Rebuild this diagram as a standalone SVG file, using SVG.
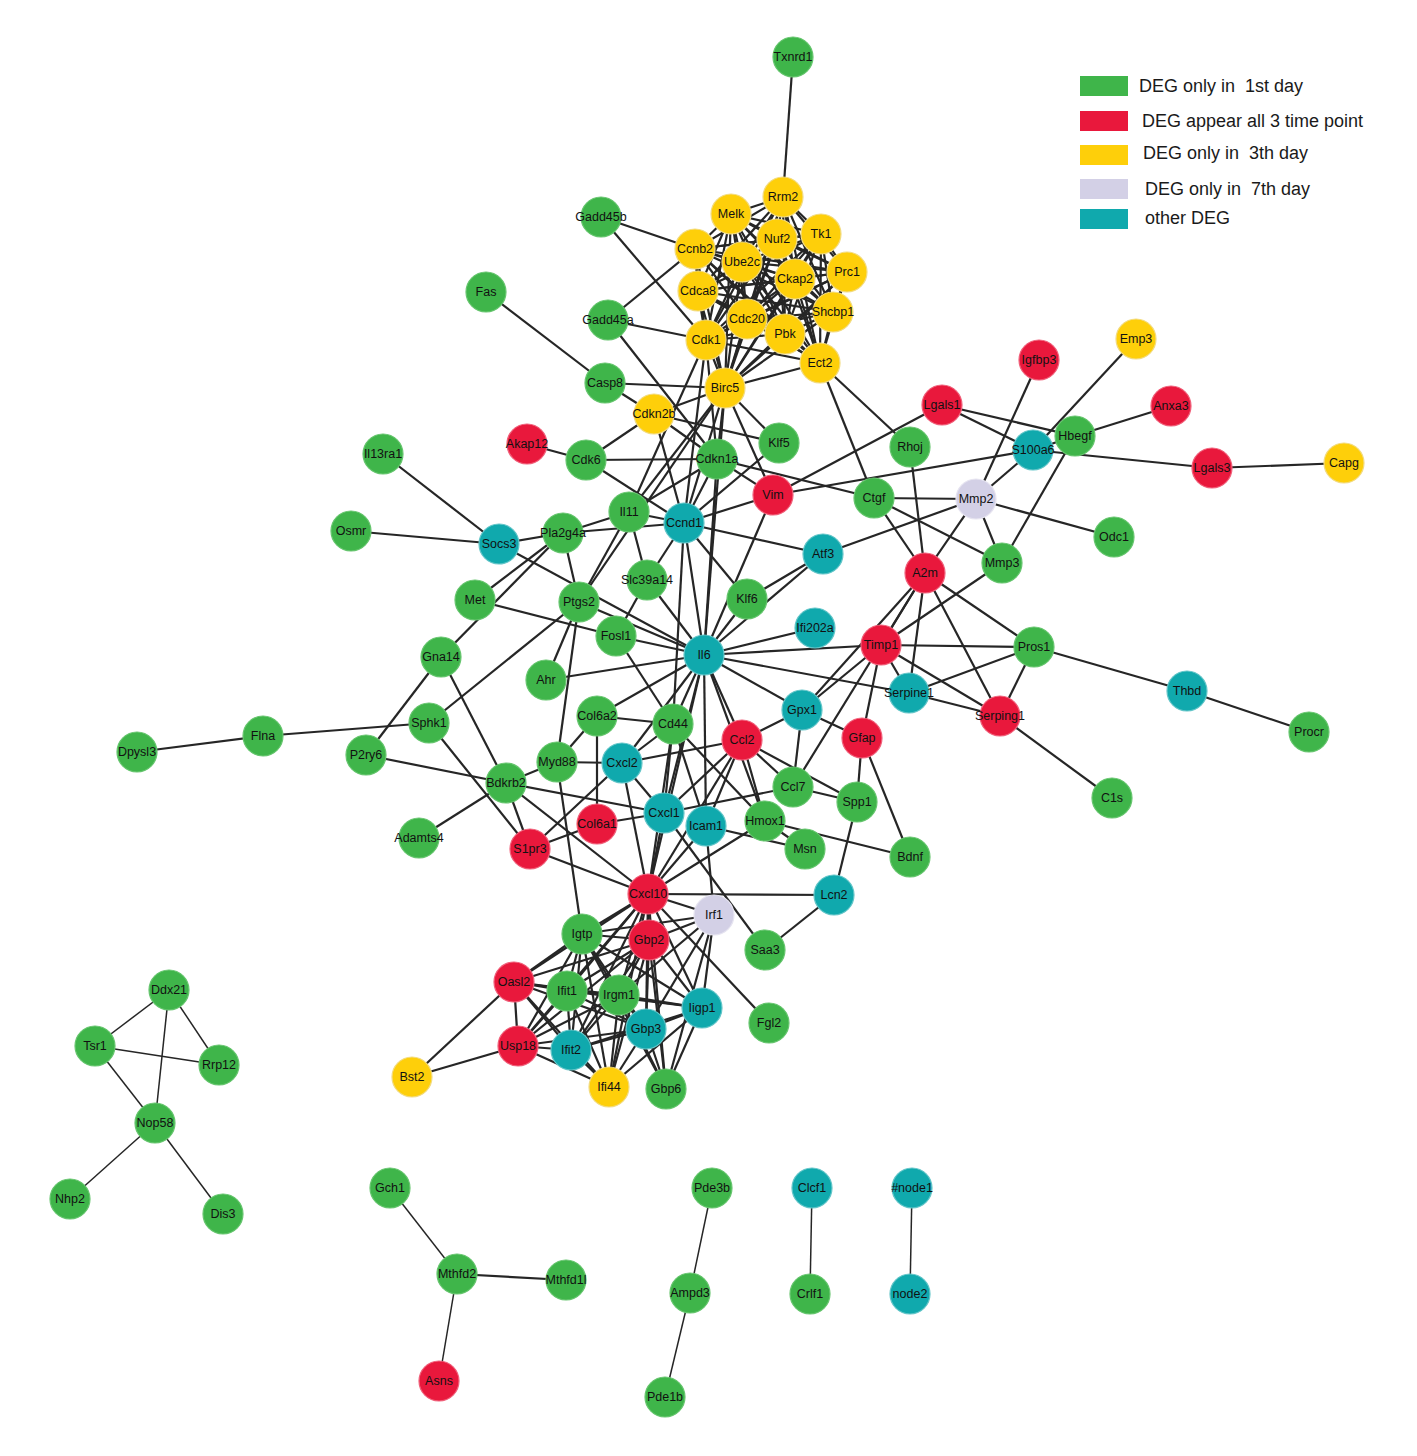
<svg xmlns="http://www.w3.org/2000/svg" width="1417" height="1456" viewBox="0 0 1417 1456">
<style>
.e line{stroke:#262626;stroke-width:2.2}
.e line.th{stroke-width:1.5}
circle{stroke-width:1.2;r:20px}
.g circle{fill:#3fb54a;stroke:#66c56e}
.r circle{fill:#e9183c;stroke:#f0607a}
.y circle{fill:#fecf0a;stroke:#f2db80}
.l circle{fill:#d3d0e6;stroke:#e6e4f0}
.t circle{fill:#10a9ad;stroke:#62c5c8}
text{font-family:"Liberation Sans",Arial,sans-serif;font-size:12.5px;fill:#111;text-anchor:middle;dominant-baseline:central}
.lg text{font-size:18px;text-anchor:start;white-space:pre;fill:#1a1a1a}
</style>
<rect width="1417" height="1456" fill="#fff"/>
<g id="legend" class="lg">
<rect x="1080" y="76" width="48" height="20" fill="#3fb54a"/>
<rect x="1080" y="111" width="48" height="20" fill="#e9183c"/>
<rect x="1080" y="145" width="48" height="20" fill="#fecf0a"/>
<rect x="1080" y="179" width="48" height="20" fill="#d3d0e6"/>
<rect x="1080" y="209" width="48" height="20" fill="#10a9ad"/>
<text x="1139" y="86">DEG only in  1st day</text>
<text x="1142" y="121">DEG appear all 3 time point</text>
<text x="1143" y="153">DEG only in  3th day</text>
<text x="1145" y="189">DEG only in  7th day</text>
<text x="1145" y="218">other DEG</text>
</g>
<g id="connectors" class="e">
<line x1="783" y1="197" x2="731" y2="214"/><line x1="783" y1="197" x2="777" y2="239"/><line x1="783" y1="197" x2="821" y2="234"/><line x1="783" y1="197" x2="695" y2="249"/><line x1="783" y1="197" x2="742" y2="262"/><line x1="783" y1="197" x2="847" y2="272"/><line x1="783" y1="197" x2="795" y2="279"/><line x1="783" y1="197" x2="698" y2="291"/><line x1="783" y1="197" x2="833" y2="312"/><line x1="783" y1="197" x2="747" y2="319"/><line x1="783" y1="197" x2="785" y2="334"/><line x1="783" y1="197" x2="706" y2="340"/><line x1="783" y1="197" x2="820" y2="363"/><line x1="783" y1="197" x2="725" y2="388"/>
<line x1="731" y1="214" x2="777" y2="239"/><line x1="731" y1="214" x2="821" y2="234"/><line x1="731" y1="214" x2="695" y2="249"/><line x1="731" y1="214" x2="742" y2="262"/><line x1="731" y1="214" x2="847" y2="272"/><line x1="731" y1="214" x2="795" y2="279"/><line x1="731" y1="214" x2="698" y2="291"/><line x1="731" y1="214" x2="833" y2="312"/><line x1="731" y1="214" x2="747" y2="319"/><line x1="731" y1="214" x2="785" y2="334"/><line x1="731" y1="214" x2="706" y2="340"/><line x1="731" y1="214" x2="820" y2="363"/><line x1="731" y1="214" x2="725" y2="388"/>
<line x1="777" y1="239" x2="821" y2="234"/><line x1="777" y1="239" x2="695" y2="249"/><line x1="777" y1="239" x2="742" y2="262"/><line x1="777" y1="239" x2="847" y2="272"/><line x1="777" y1="239" x2="795" y2="279"/><line x1="777" y1="239" x2="698" y2="291"/><line x1="777" y1="239" x2="833" y2="312"/><line x1="777" y1="239" x2="747" y2="319"/><line x1="777" y1="239" x2="785" y2="334"/><line x1="777" y1="239" x2="706" y2="340"/><line x1="777" y1="239" x2="820" y2="363"/><line x1="777" y1="239" x2="725" y2="388"/>
<line x1="821" y1="234" x2="695" y2="249"/><line x1="821" y1="234" x2="742" y2="262"/><line x1="821" y1="234" x2="847" y2="272"/><line x1="821" y1="234" x2="795" y2="279"/><line x1="821" y1="234" x2="698" y2="291"/><line x1="821" y1="234" x2="833" y2="312"/><line x1="821" y1="234" x2="747" y2="319"/><line x1="821" y1="234" x2="785" y2="334"/><line x1="821" y1="234" x2="706" y2="340"/><line x1="821" y1="234" x2="820" y2="363"/><line x1="821" y1="234" x2="725" y2="388"/>
<line x1="695" y1="249" x2="742" y2="262"/><line x1="695" y1="249" x2="847" y2="272"/><line x1="695" y1="249" x2="795" y2="279"/><line x1="695" y1="249" x2="698" y2="291"/><line x1="695" y1="249" x2="833" y2="312"/><line x1="695" y1="249" x2="747" y2="319"/><line x1="695" y1="249" x2="785" y2="334"/><line x1="695" y1="249" x2="706" y2="340"/><line x1="695" y1="249" x2="820" y2="363"/><line x1="695" y1="249" x2="725" y2="388"/>
<line x1="742" y1="262" x2="847" y2="272"/><line x1="742" y1="262" x2="795" y2="279"/><line x1="742" y1="262" x2="698" y2="291"/><line x1="742" y1="262" x2="833" y2="312"/><line x1="742" y1="262" x2="747" y2="319"/><line x1="742" y1="262" x2="785" y2="334"/><line x1="742" y1="262" x2="706" y2="340"/><line x1="742" y1="262" x2="820" y2="363"/><line x1="742" y1="262" x2="725" y2="388"/>
<line x1="847" y1="272" x2="795" y2="279"/><line x1="847" y1="272" x2="698" y2="291"/><line x1="847" y1="272" x2="833" y2="312"/><line x1="847" y1="272" x2="747" y2="319"/><line x1="847" y1="272" x2="785" y2="334"/><line x1="847" y1="272" x2="706" y2="340"/><line x1="847" y1="272" x2="820" y2="363"/><line x1="847" y1="272" x2="725" y2="388"/>
<line x1="795" y1="279" x2="698" y2="291"/><line x1="795" y1="279" x2="833" y2="312"/><line x1="795" y1="279" x2="747" y2="319"/><line x1="795" y1="279" x2="785" y2="334"/><line x1="795" y1="279" x2="706" y2="340"/><line x1="795" y1="279" x2="820" y2="363"/><line x1="795" y1="279" x2="725" y2="388"/>
<line x1="698" y1="291" x2="833" y2="312"/><line x1="698" y1="291" x2="747" y2="319"/><line x1="698" y1="291" x2="785" y2="334"/><line x1="698" y1="291" x2="706" y2="340"/><line x1="698" y1="291" x2="820" y2="363"/><line x1="698" y1="291" x2="725" y2="388"/>
<line x1="833" y1="312" x2="747" y2="319"/><line x1="833" y1="312" x2="785" y2="334"/><line x1="833" y1="312" x2="706" y2="340"/><line x1="833" y1="312" x2="820" y2="363"/><line x1="833" y1="312" x2="725" y2="388"/>
<line x1="747" y1="319" x2="785" y2="334"/><line x1="747" y1="319" x2="706" y2="340"/><line x1="747" y1="319" x2="820" y2="363"/><line x1="747" y1="319" x2="725" y2="388"/>
<line x1="785" y1="334" x2="706" y2="340"/><line x1="785" y1="334" x2="820" y2="363"/><line x1="785" y1="334" x2="725" y2="388"/>
<line x1="706" y1="340" x2="820" y2="363"/><line x1="706" y1="340" x2="725" y2="388"/>
<line x1="820" y1="363" x2="725" y2="388"/>
<line x1="793" y1="57" x2="783" y2="197"/>
<line x1="601" y1="217" x2="695" y2="249"/>
<line x1="601" y1="217" x2="706" y2="340"/>
<line x1="608" y1="320" x2="695" y2="249"/>
<line x1="608" y1="320" x2="706" y2="340"/>
<line x1="608" y1="320" x2="717" y2="459"/>
<line x1="486" y1="292" x2="605" y2="383"/>
<line x1="605" y1="383" x2="725" y2="388"/>
<line x1="605" y1="383" x2="654" y2="414"/>
<line x1="654" y1="414" x2="586" y2="460"/>
<line x1="654" y1="414" x2="684" y2="523"/>
<line x1="654" y1="414" x2="717" y2="459"/>
<line x1="654" y1="414" x2="779" y2="443"/>
<line x1="654" y1="414" x2="725" y2="388"/>
<line x1="527" y1="444" x2="586" y2="460"/>
<line x1="586" y1="460" x2="717" y2="459"/>
<line x1="586" y1="460" x2="684" y2="523"/>
<line x1="717" y1="459" x2="725" y2="388"/>
<line x1="717" y1="459" x2="706" y2="340"/>
<line x1="717" y1="459" x2="684" y2="523"/>
<line x1="717" y1="459" x2="773" y2="495"/>
<line x1="717" y1="459" x2="874" y2="498"/>
<line x1="717" y1="459" x2="704" y2="655"/>
<line x1="717" y1="459" x2="629" y2="512"/>
<line x1="725" y1="388" x2="779" y2="443"/>
<line x1="725" y1="388" x2="773" y2="495"/>
<line x1="725" y1="388" x2="684" y2="523"/>
<line x1="725" y1="388" x2="629" y2="512"/>
<line x1="725" y1="388" x2="579" y2="602"/>
<line x1="725" y1="388" x2="704" y2="655"/>
<line x1="706" y1="340" x2="684" y2="523"/>
<line x1="706" y1="340" x2="629" y2="512"/>
<line x1="820" y1="363" x2="910" y2="447"/>
<line x1="820" y1="363" x2="874" y2="498"/>
<line x1="779" y1="443" x2="684" y2="523"/>
<line x1="773" y1="495" x2="684" y2="523"/>
<line x1="773" y1="495" x2="942" y2="405"/>
<line x1="773" y1="495" x2="1033" y2="450"/>
<line x1="773" y1="495" x2="704" y2="655"/>
<line x1="684" y1="523" x2="629" y2="512"/>
<line x1="684" y1="523" x2="563" y2="533"/>
<line x1="684" y1="523" x2="823" y2="554"/>
<line x1="684" y1="523" x2="747" y2="599"/>
<line x1="684" y1="523" x2="647" y2="580"/>
<line x1="684" y1="523" x2="704" y2="655"/>
<line x1="684" y1="523" x2="673" y2="724"/>
<line x1="823" y1="554" x2="976" y2="499"/>
<line x1="823" y1="554" x2="747" y2="599"/>
<line x1="823" y1="554" x2="704" y2="655"/>
<line x1="747" y1="599" x2="704" y2="655"/>
<line x1="629" y1="512" x2="563" y2="533"/>
<line x1="629" y1="512" x2="579" y2="602"/>
<line x1="629" y1="512" x2="647" y2="580"/>
<line x1="647" y1="580" x2="704" y2="655"/>
<line x1="647" y1="580" x2="616" y2="636"/>
<line x1="563" y1="533" x2="499" y2="544"/>
<line x1="563" y1="533" x2="579" y2="602"/>
<line x1="563" y1="533" x2="475" y2="600"/>
<line x1="563" y1="533" x2="441" y2="657"/>
<line x1="383" y1="454" x2="499" y2="544"/>
<line x1="351" y1="531" x2="499" y2="544"/>
<line x1="499" y1="544" x2="704" y2="655"/>
<line x1="579" y1="602" x2="704" y2="655"/>
<line x1="579" y1="602" x2="546" y2="680"/>
<line x1="579" y1="602" x2="429" y2="723"/>
<line x1="579" y1="602" x2="557" y2="762"/>
<line x1="475" y1="600" x2="616" y2="636"/>
<line x1="616" y1="636" x2="673" y2="724"/>
<line x1="546" y1="680" x2="704" y2="655"/>
<line x1="441" y1="657" x2="366" y2="755"/>
<line x1="441" y1="657" x2="506" y2="783"/>
<line x1="429" y1="723" x2="263" y2="736"/>
<line x1="263" y1="736" x2="137" y2="752"/>
<line x1="429" y1="723" x2="530" y2="849"/>
<line x1="366" y1="755" x2="506" y2="783"/>
<line x1="419" y1="838" x2="506" y2="783"/>
<line x1="506" y1="783" x2="557" y2="762"/>
<line x1="506" y1="783" x2="530" y2="849"/>
<line x1="506" y1="783" x2="664" y2="813"/>
<line x1="506" y1="783" x2="648" y2="894"/>
<line x1="557" y1="762" x2="597" y2="716"/>
<line x1="557" y1="762" x2="622" y2="763"/>
<line x1="557" y1="762" x2="582" y2="934"/>
<line x1="597" y1="716" x2="673" y2="724"/>
<line x1="597" y1="716" x2="704" y2="655"/>
<line x1="597" y1="716" x2="597" y2="824"/>
<line x1="530" y1="849" x2="597" y2="824"/>
<line x1="530" y1="849" x2="622" y2="763"/>
<line x1="530" y1="849" x2="648" y2="894"/>
<line x1="597" y1="824" x2="664" y2="813"/>
<line x1="622" y1="763" x2="673" y2="724"/>
<line x1="622" y1="763" x2="742" y2="740"/>
<line x1="622" y1="763" x2="664" y2="813"/>
<line x1="622" y1="763" x2="648" y2="894"/>
<line x1="622" y1="763" x2="704" y2="655"/>
<line x1="673" y1="724" x2="704" y2="655"/>
<line x1="673" y1="724" x2="664" y2="813"/>
<line x1="673" y1="724" x2="648" y2="894"/>
<line x1="673" y1="724" x2="706" y2="826"/>
<line x1="673" y1="724" x2="765" y2="821"/>
<line x1="704" y1="655" x2="815" y2="628"/>
<line x1="704" y1="655" x2="881" y2="645"/>
<line x1="704" y1="655" x2="909" y2="693"/>
<line x1="704" y1="655" x2="802" y2="710"/>
<line x1="704" y1="655" x2="742" y2="740"/>
<line x1="704" y1="655" x2="664" y2="813"/>
<line x1="704" y1="655" x2="706" y2="826"/>
<line x1="704" y1="655" x2="765" y2="821"/>
<line x1="704" y1="655" x2="648" y2="894"/>
<line x1="704" y1="655" x2="616" y2="636"/>
<line x1="742" y1="740" x2="802" y2="710"/>
<line x1="742" y1="740" x2="793" y2="787"/>
<line x1="742" y1="740" x2="765" y2="821"/>
<line x1="742" y1="740" x2="664" y2="813"/>
<line x1="742" y1="740" x2="706" y2="826"/>
<line x1="742" y1="740" x2="648" y2="894"/>
<line x1="742" y1="740" x2="857" y2="802"/>
<line x1="802" y1="710" x2="881" y2="645"/>
<line x1="802" y1="710" x2="862" y2="738"/>
<line x1="802" y1="710" x2="793" y2="787"/>
<line x1="862" y1="738" x2="881" y2="645"/>
<line x1="862" y1="738" x2="857" y2="802"/>
<line x1="862" y1="738" x2="910" y2="857"/>
<line x1="857" y1="802" x2="793" y2="787"/>
<line x1="857" y1="802" x2="834" y2="895"/>
<line x1="793" y1="787" x2="664" y2="813"/>
<line x1="793" y1="787" x2="925" y2="573"/>
<line x1="765" y1="821" x2="805" y2="849"/>
<line x1="765" y1="821" x2="910" y2="857"/>
<line x1="765" y1="821" x2="648" y2="894"/>
<line x1="706" y1="826" x2="805" y2="849"/>
<line x1="706" y1="826" x2="714" y2="915"/>
<line x1="706" y1="826" x2="648" y2="894"/>
<line x1="664" y1="813" x2="648" y2="894"/>
<line x1="664" y1="813" x2="765" y2="950"/>
<line x1="648" y1="894" x2="834" y2="895"/>
<line x1="834" y1="895" x2="765" y2="950"/>
<line x1="648" y1="894" x2="769" y2="1023"/>
<line x1="648" y1="894" x2="714" y2="915"/>
<line x1="881" y1="645" x2="1034" y2="647"/>
<line x1="881" y1="645" x2="925" y2="573"/>
<line x1="881" y1="645" x2="909" y2="693"/>
<line x1="881" y1="645" x2="1000" y2="716"/>
<line x1="881" y1="645" x2="1002" y2="563"/>
<line x1="925" y1="573" x2="909" y2="693"/>
<line x1="925" y1="573" x2="1000" y2="716"/>
<line x1="925" y1="573" x2="1034" y2="647"/>
<line x1="925" y1="573" x2="910" y2="447"/>
<line x1="925" y1="573" x2="874" y2="498"/>
<line x1="925" y1="573" x2="976" y2="499"/>
<line x1="925" y1="573" x2="802" y2="710"/>
<line x1="909" y1="693" x2="1034" y2="647"/>
<line x1="909" y1="693" x2="1000" y2="716"/>
<line x1="1000" y1="716" x2="1034" y2="647"/>
<line x1="1000" y1="716" x2="1112" y2="798"/>
<line x1="1034" y1="647" x2="1187" y2="691"/>
<line x1="1187" y1="691" x2="1309" y2="732"/>
<line x1="874" y1="498" x2="976" y2="499"/>
<line x1="874" y1="498" x2="1002" y2="563"/>
<line x1="976" y1="499" x2="1039" y2="360"/>
<line x1="976" y1="499" x2="1033" y2="450"/>
<line x1="976" y1="499" x2="1002" y2="563"/>
<line x1="976" y1="499" x2="1114" y2="537"/>
<line x1="1075" y1="436" x2="1002" y2="563"/>
<line x1="1136" y1="339" x2="1033" y2="450"/>
<line x1="1075" y1="436" x2="1171" y2="406"/>
<line x1="942" y1="405" x2="1075" y2="436"/>
<line x1="942" y1="405" x2="1033" y2="450"/>
<line x1="1033" y1="450" x2="1212" y2="468"/>
<line x1="1033" y1="450" x2="1075" y2="436"/>
<line x1="1212" y1="468" x2="1344" y2="463"/>
<line x1="648" y1="894" x2="582" y2="934"/><line x1="648" y1="894" x2="649" y2="940"/><line x1="648" y1="894" x2="514" y2="982"/><line x1="648" y1="894" x2="567" y2="991"/><line x1="648" y1="894" x2="619" y2="995"/><line x1="648" y1="894" x2="702" y2="1008"/><line x1="648" y1="894" x2="646" y2="1029"/><line x1="648" y1="894" x2="518" y2="1046"/><line x1="648" y1="894" x2="571" y2="1050"/><line x1="648" y1="894" x2="609" y2="1087"/><line x1="648" y1="894" x2="666" y2="1089"/>
<line x1="582" y1="934" x2="649" y2="940"/><line x1="582" y1="934" x2="514" y2="982"/><line x1="582" y1="934" x2="567" y2="991"/><line x1="582" y1="934" x2="619" y2="995"/><line x1="582" y1="934" x2="702" y2="1008"/><line x1="582" y1="934" x2="646" y2="1029"/><line x1="582" y1="934" x2="518" y2="1046"/><line x1="582" y1="934" x2="571" y2="1050"/><line x1="582" y1="934" x2="609" y2="1087"/><line x1="582" y1="934" x2="666" y2="1089"/><line x1="582" y1="934" x2="714" y2="915"/>
<line x1="649" y1="940" x2="514" y2="982"/><line x1="649" y1="940" x2="567" y2="991"/><line x1="649" y1="940" x2="619" y2="995"/><line x1="649" y1="940" x2="702" y2="1008"/><line x1="649" y1="940" x2="646" y2="1029"/><line x1="649" y1="940" x2="518" y2="1046"/><line x1="649" y1="940" x2="571" y2="1050"/><line x1="649" y1="940" x2="609" y2="1087"/><line x1="649" y1="940" x2="666" y2="1089"/><line x1="649" y1="940" x2="714" y2="915"/>
<line x1="514" y1="982" x2="567" y2="991"/><line x1="514" y1="982" x2="619" y2="995"/><line x1="514" y1="982" x2="646" y2="1029"/><line x1="514" y1="982" x2="518" y2="1046"/><line x1="514" y1="982" x2="571" y2="1050"/><line x1="514" y1="982" x2="609" y2="1087"/><line x1="514" y1="982" x2="702" y2="1008"/>
<line x1="567" y1="991" x2="619" y2="995"/><line x1="567" y1="991" x2="702" y2="1008"/><line x1="567" y1="991" x2="646" y2="1029"/><line x1="567" y1="991" x2="518" y2="1046"/><line x1="567" y1="991" x2="571" y2="1050"/><line x1="567" y1="991" x2="609" y2="1087"/>
<line x1="619" y1="995" x2="702" y2="1008"/><line x1="619" y1="995" x2="646" y2="1029"/><line x1="619" y1="995" x2="518" y2="1046"/><line x1="619" y1="995" x2="571" y2="1050"/><line x1="619" y1="995" x2="609" y2="1087"/><line x1="619" y1="995" x2="666" y2="1089"/><line x1="619" y1="995" x2="714" y2="915"/>
<line x1="702" y1="1008" x2="646" y2="1029"/><line x1="702" y1="1008" x2="571" y2="1050"/><line x1="702" y1="1008" x2="609" y2="1087"/><line x1="702" y1="1008" x2="666" y2="1089"/><line x1="702" y1="1008" x2="714" y2="915"/>
<line x1="646" y1="1029" x2="518" y2="1046"/><line x1="646" y1="1029" x2="571" y2="1050"/><line x1="646" y1="1029" x2="609" y2="1087"/><line x1="646" y1="1029" x2="666" y2="1089"/><line x1="646" y1="1029" x2="714" y2="915"/>
<line x1="518" y1="1046" x2="571" y2="1050"/><line x1="518" y1="1046" x2="609" y2="1087"/>
<line x1="571" y1="1050" x2="609" y2="1087"/>
<line x1="714" y1="915" x2="666" y2="1089"/>
<line x1="412" y1="1077" x2="514" y2="982"/>
<line x1="412" y1="1077" x2="518" y2="1046"/>
<line class="th" x1="169" y1="990" x2="95" y2="1046"/>
<line class="th" x1="169" y1="990" x2="219" y2="1065"/>
<line class="th" x1="169" y1="990" x2="155" y2="1123"/>
<line class="th" x1="95" y1="1046" x2="219" y2="1065"/>
<line class="th" x1="95" y1="1046" x2="155" y2="1123"/>
<line class="th" x1="155" y1="1123" x2="70" y2="1199"/>
<line class="th" x1="155" y1="1123" x2="223" y2="1214"/>
<line class="th" x1="390" y1="1188" x2="457" y2="1274"/>
<line x1="457" y1="1274" x2="566" y2="1280"/>
<line class="th" x1="457" y1="1274" x2="439" y2="1381"/>
<line class="th" x1="712" y1="1188" x2="690" y2="1293"/>
<line class="th" x1="690" y1="1293" x2="665" y2="1397"/>
<line class="th" x1="812" y1="1188" x2="810" y2="1294"/>
<line class="th" x1="912" y1="1188" x2="910" y2="1294"/>
</g>
<g id="nodes">
<g id="Txnrd1" class="g"><circle cx="793" cy="57" r="20"/><text x="793" y="57">Txnrd1</text></g>
<g id="Rrm2" class="y"><circle cx="783" cy="197" r="20"/><text x="783" y="197">Rrm2</text></g>
<g id="Melk" class="y"><circle cx="731" cy="214" r="20"/><text x="731" y="214">Melk</text></g>
<g id="Nuf2" class="y"><circle cx="777" cy="239" r="20"/><text x="777" y="239">Nuf2</text></g>
<g id="Tk1" class="y"><circle cx="821" cy="234" r="20"/><text x="821" y="234">Tk1</text></g>
<g id="Gadd45b" class="g"><circle cx="601" cy="217" r="20"/><text x="601" y="217">Gadd45b</text></g>
<g id="Ccnb2" class="y"><circle cx="695" cy="249" r="20"/><text x="695" y="249">Ccnb2</text></g>
<g id="Ube2c" class="y"><circle cx="742" cy="262" r="20"/><text x="742" y="262">Ube2c</text></g>
<g id="Prc1" class="y"><circle cx="847" cy="272" r="20"/><text x="847" y="272">Prc1</text></g>
<g id="Ckap2" class="y"><circle cx="795" cy="279" r="20"/><text x="795" y="279">Ckap2</text></g>
<g id="Cdca8" class="y"><circle cx="698" cy="291" r="20"/><text x="698" y="291">Cdca8</text></g>
<g id="Shcbp1" class="y"><circle cx="833" cy="312" r="20"/><text x="833" y="312">Shcbp1</text></g>
<g id="Cdc20" class="y"><circle cx="747" cy="319" r="20"/><text x="747" y="319">Cdc20</text></g>
<g id="Pbk" class="y"><circle cx="785" cy="334" r="20"/><text x="785" y="334">Pbk</text></g>
<g id="Fas" class="g"><circle cx="486" cy="292" r="20"/><text x="486" y="292">Fas</text></g>
<g id="Gadd45a" class="g"><circle cx="608" cy="320" r="20"/><text x="608" y="320">Gadd45a</text></g>
<g id="Cdk1" class="y"><circle cx="706" cy="340" r="20"/><text x="706" y="340">Cdk1</text></g>
<g id="Ect2" class="y"><circle cx="820" cy="363" r="20"/><text x="820" y="363">Ect2</text></g>
<g id="Birc5" class="y"><circle cx="725" cy="388" r="20"/><text x="725" y="388">Birc5</text></g>
<g id="Casp8" class="g"><circle cx="605" cy="383" r="20"/><text x="605" y="383">Casp8</text></g>
<g id="Emp3" class="y"><circle cx="1136" cy="339" r="20"/><text x="1136" y="339">Emp3</text></g>
<g id="Igfbp3" class="r"><circle cx="1039" cy="360" r="20"/><text x="1039" y="360">Igfbp3</text></g>
<g id="Anxa3" class="r"><circle cx="1171" cy="406" r="20"/><text x="1171" y="406">Anxa3</text></g>
<g id="Lgals1" class="r"><circle cx="942" cy="405" r="20"/><text x="942" y="405">Lgals1</text></g>
<g id="Cdkn2b" class="y"><circle cx="654" cy="414" r="20"/><text x="654" y="414">Cdkn2b</text></g>
<g id="Il13ra1" class="g"><circle cx="383" cy="454" r="20"/><text x="383" y="454">Il13ra1</text></g>
<g id="Akap12" class="r"><circle cx="527" cy="444" r="20"/><text x="527" y="444">Akap12</text></g>
<g id="Klf5" class="g"><circle cx="779" cy="443" r="20"/><text x="779" y="443">Klf5</text></g>
<g id="Rhoj" class="g"><circle cx="910" cy="447" r="20"/><text x="910" y="447">Rhoj</text></g>
<g id="S100a6" class="t"><circle cx="1033" cy="450" r="20"/><text x="1033" y="450">S100a6</text></g>
<g id="Hbegf" class="g"><circle cx="1075" cy="436" r="20"/><text x="1075" y="436">Hbegf</text></g>
<g id="Lgals3" class="r"><circle cx="1212" cy="468" r="20"/><text x="1212" y="468">Lgals3</text></g>
<g id="Capg" class="y"><circle cx="1344" cy="463" r="20"/><text x="1344" y="463">Capg</text></g>
<g id="Cdk6" class="g"><circle cx="586" cy="460" r="20"/><text x="586" y="460">Cdk6</text></g>
<g id="Cdkn1a" class="g"><circle cx="717" cy="459" r="20"/><text x="717" y="459">Cdkn1a</text></g>
<g id="Vim" class="r"><circle cx="773" cy="495" r="20"/><text x="773" y="495">Vim</text></g>
<g id="Ctgf" class="g"><circle cx="874" cy="498" r="20"/><text x="874" y="498">Ctgf</text></g>
<g id="Mmp2" class="l"><circle cx="976" cy="499" r="20"/><text x="976" y="499">Mmp2</text></g>
<g id="Il11" class="g"><circle cx="629" cy="512" r="20"/><text x="629" y="512">Il11</text></g>
<g id="Ccnd1" class="t"><circle cx="684" cy="523" r="20"/><text x="684" y="523">Ccnd1</text></g>
<g id="Osmr" class="g"><circle cx="351" cy="531" r="20"/><text x="351" y="531">Osmr</text></g>
<g id="Socs3" class="t"><circle cx="499" cy="544" r="20"/><text x="499" y="544">Socs3</text></g>
<g id="Pla2g4a" class="g"><circle cx="563" cy="533" r="20"/><text x="563" y="533">Pla2g4a</text></g>
<g id="Odc1" class="g"><circle cx="1114" cy="537" r="20"/><text x="1114" y="537">Odc1</text></g>
<g id="Atf3" class="t"><circle cx="823" cy="554" r="20"/><text x="823" y="554">Atf3</text></g>
<g id="A2m" class="r"><circle cx="925" cy="573" r="20"/><text x="925" y="573">A2m</text></g>
<g id="Mmp3" class="g"><circle cx="1002" cy="563" r="20"/><text x="1002" y="563">Mmp3</text></g>
<g id="Slc39a14" class="g"><circle cx="647" cy="580" r="20"/><text x="647" y="580">Slc39a14</text></g>
<g id="Met" class="g"><circle cx="475" cy="600" r="20"/><text x="475" y="600">Met</text></g>
<g id="Ptgs2" class="g"><circle cx="579" cy="602" r="20"/><text x="579" y="602">Ptgs2</text></g>
<g id="Klf6" class="g"><circle cx="747" cy="599" r="20"/><text x="747" y="599">Klf6</text></g>
<g id="Fosl1" class="g"><circle cx="616" cy="636" r="20"/><text x="616" y="636">Fosl1</text></g>
<g id="Ifi202a" class="t"><circle cx="815" cy="628" r="20"/><text x="815" y="628">Ifi202a</text></g>
<g id="Il6" class="t"><circle cx="704" cy="655" r="20"/><text x="704" y="655">Il6</text></g>
<g id="Timp1" class="r"><circle cx="881" cy="645" r="20"/><text x="881" y="645">Timp1</text></g>
<g id="Pros1" class="g"><circle cx="1034" cy="647" r="20"/><text x="1034" y="647">Pros1</text></g>
<g id="Gna14" class="g"><circle cx="441" cy="657" r="20"/><text x="441" y="657">Gna14</text></g>
<g id="Ahr" class="g"><circle cx="546" cy="680" r="20"/><text x="546" y="680">Ahr</text></g>
<g id="Thbd" class="t"><circle cx="1187" cy="691" r="20"/><text x="1187" y="691">Thbd</text></g>
<g id="Serpine1" class="t"><circle cx="909" cy="693" r="20"/><text x="909" y="693">Serpine1</text></g>
<g id="Gpx1" class="t"><circle cx="802" cy="710" r="20"/><text x="802" y="710">Gpx1</text></g>
<g id="Serping1" class="r"><circle cx="1000" cy="716" r="20"/><text x="1000" y="716">Serping1</text></g>
<g id="Procr" class="g"><circle cx="1309" cy="732" r="20"/><text x="1309" y="732">Procr</text></g>
<g id="Flna" class="g"><circle cx="263" cy="736" r="20"/><text x="263" y="736">Flna</text></g>
<g id="Dpysl3" class="g"><circle cx="137" cy="752" r="20"/><text x="137" y="752">Dpysl3</text></g>
<g id="Sphk1" class="g"><circle cx="429" cy="723" r="20"/><text x="429" y="723">Sphk1</text></g>
<g id="Col6a2" class="g"><circle cx="597" cy="716" r="20"/><text x="597" y="716">Col6a2</text></g>
<g id="Cd44" class="g"><circle cx="673" cy="724" r="20"/><text x="673" y="724">Cd44</text></g>
<g id="Ccl2" class="r"><circle cx="742" cy="740" r="20"/><text x="742" y="740">Ccl2</text></g>
<g id="Gfap" class="r"><circle cx="862" cy="738" r="20"/><text x="862" y="738">Gfap</text></g>
<g id="P2ry6" class="g"><circle cx="366" cy="755" r="20"/><text x="366" y="755">P2ry6</text></g>
<g id="Myd88" class="g"><circle cx="557" cy="762" r="20"/><text x="557" y="762">Myd88</text></g>
<g id="Cxcl2" class="t"><circle cx="622" cy="763" r="20"/><text x="622" y="763">Cxcl2</text></g>
<g id="Ccl7" class="g"><circle cx="793" cy="787" r="20"/><text x="793" y="787">Ccl7</text></g>
<g id="Bdkrb2" class="g"><circle cx="506" cy="783" r="20"/><text x="506" y="783">Bdkrb2</text></g>
<g id="Spp1" class="g"><circle cx="857" cy="802" r="20"/><text x="857" y="802">Spp1</text></g>
<g id="C1s" class="g"><circle cx="1112" cy="798" r="20"/><text x="1112" y="798">C1s</text></g>
<g id="Cxcl1" class="t"><circle cx="664" cy="813" r="20"/><text x="664" y="813">Cxcl1</text></g>
<g id="Icam1" class="t"><circle cx="706" cy="826" r="20"/><text x="706" y="826">Icam1</text></g>
<g id="Hmox1" class="g"><circle cx="765" cy="821" r="20"/><text x="765" y="821">Hmox1</text></g>
<g id="Col6a1" class="r"><circle cx="597" cy="824" r="20"/><text x="597" y="824">Col6a1</text></g>
<g id="Adamts4" class="g"><circle cx="419" cy="838" r="20"/><text x="419" y="838">Adamts4</text></g>
<g id="S1pr3" class="r"><circle cx="530" cy="849" r="20"/><text x="530" y="849">S1pr3</text></g>
<g id="Msn" class="g"><circle cx="805" cy="849" r="20"/><text x="805" y="849">Msn</text></g>
<g id="Bdnf" class="g"><circle cx="910" cy="857" r="20"/><text x="910" y="857">Bdnf</text></g>
<g id="Cxcl10" class="r"><circle cx="648" cy="894" r="20"/><text x="648" y="894">Cxcl10</text></g>
<g id="Lcn2" class="t"><circle cx="834" cy="895" r="20"/><text x="834" y="895">Lcn2</text></g>
<g id="Irf1" class="l"><circle cx="714" cy="915" r="20"/><text x="714" y="915">Irf1</text></g>
<g id="Igtp" class="g"><circle cx="582" cy="934" r="20"/><text x="582" y="934">Igtp</text></g>
<g id="Gbp2" class="r"><circle cx="649" cy="940" r="20"/><text x="649" y="940">Gbp2</text></g>
<g id="Saa3" class="g"><circle cx="765" cy="950" r="20"/><text x="765" y="950">Saa3</text></g>
<g id="Oasl2" class="r"><circle cx="514" cy="982" r="20"/><text x="514" y="982">Oasl2</text></g>
<g id="Ifit1" class="g"><circle cx="567" cy="991" r="20"/><text x="567" y="991">Ifit1</text></g>
<g id="Irgm1" class="g"><circle cx="619" cy="995" r="20"/><text x="619" y="995">Irgm1</text></g>
<g id="Iigp1" class="t"><circle cx="702" cy="1008" r="20"/><text x="702" y="1008">Iigp1</text></g>
<g id="Gbp3" class="t"><circle cx="646" cy="1029" r="20"/><text x="646" y="1029">Gbp3</text></g>
<g id="Fgl2" class="g"><circle cx="769" cy="1023" r="20"/><text x="769" y="1023">Fgl2</text></g>
<g id="Usp18" class="r"><circle cx="518" cy="1046" r="20"/><text x="518" y="1046">Usp18</text></g>
<g id="Ifit2" class="t"><circle cx="571" cy="1050" r="20"/><text x="571" y="1050">Ifit2</text></g>
<g id="Bst2" class="y"><circle cx="412" cy="1077" r="20"/><text x="412" y="1077">Bst2</text></g>
<g id="Ifi44" class="y"><circle cx="609" cy="1087" r="20"/><text x="609" y="1087">Ifi44</text></g>
<g id="Gbp6" class="g"><circle cx="666" cy="1089" r="20"/><text x="666" y="1089">Gbp6</text></g>
<g id="Ddx21" class="g"><circle cx="169" cy="990" r="20"/><text x="169" y="990">Ddx21</text></g>
<g id="Tsr1" class="g"><circle cx="95" cy="1046" r="20"/><text x="95" y="1046">Tsr1</text></g>
<g id="Rrp12" class="g"><circle cx="219" cy="1065" r="20"/><text x="219" y="1065">Rrp12</text></g>
<g id="Nop58" class="g"><circle cx="155" cy="1123" r="20"/><text x="155" y="1123">Nop58</text></g>
<g id="Nhp2" class="g"><circle cx="70" cy="1199" r="20"/><text x="70" y="1199">Nhp2</text></g>
<g id="Dis3" class="g"><circle cx="223" cy="1214" r="20"/><text x="223" y="1214">Dis3</text></g>
<g id="Gch1" class="g"><circle cx="390" cy="1188" r="20"/><text x="390" y="1188">Gch1</text></g>
<g id="Mthfd2" class="g"><circle cx="457" cy="1274" r="20"/><text x="457" y="1274">Mthfd2</text></g>
<g id="Mthfd1l" class="g"><circle cx="566" cy="1280" r="20"/><text x="566" y="1280">Mthfd1l</text></g>
<g id="Asns" class="r"><circle cx="439" cy="1381" r="20"/><text x="439" y="1381">Asns</text></g>
<g id="Pde3b" class="g"><circle cx="712" cy="1188" r="20"/><text x="712" y="1188">Pde3b</text></g>
<g id="Ampd3" class="g"><circle cx="690" cy="1293" r="20"/><text x="690" y="1293">Ampd3</text></g>
<g id="Pde1b" class="g"><circle cx="665" cy="1397" r="20"/><text x="665" y="1397">Pde1b</text></g>
<g id="Clcf1" class="t"><circle cx="812" cy="1188" r="20"/><text x="812" y="1188">Clcf1</text></g>
<g id="Crlf1" class="g"><circle cx="810" cy="1294" r="20"/><text x="810" y="1294">Crlf1</text></g>
<g id="n-node1" class="t"><circle cx="912" cy="1188" r="20"/><text x="912" y="1188">#node1</text></g>
<g id="node2" class="t"><circle cx="910" cy="1294" r="20"/><text x="910" y="1294">node2</text></g>
</g>
</svg>
